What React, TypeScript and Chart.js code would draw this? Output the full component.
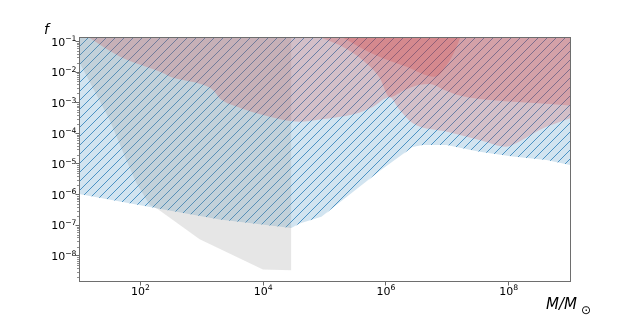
import React, { useEffect, useRef } from 'react';
import { Chart, registerables } from 'chart.js';

Chart.register(...registerables);

// Axis limits (log10 space: M 1..9, f -8.85..-0.86)
const M_MIN = 10;
const M_MAX = 1e9;
const F_MIN = 1.41e-9;
const F_MAX = 0.1393;

// Tick exponents
const xTickExponents = [2, 4, 6, 8];
const yTickExponents = [-8, -7, -6, -5, -4, -3, -2, -1];

// Blue hatched constraint (lower edge, excluded above)
const massBlue = [10, 194, 1960, 2.88e4, 3.93e4, 8.9e4, 7.9e5, 2.72e6, 3.96e6, 9.75e6, 3.36e7, 1.16e8, 4.14e8, 1e9];
const fBlue = [1.05e-6, 3.5e-7, 1.55e-7, 8.2e-8, 1.15e-7, 1.9e-7, 5.9e-6, 3.6e-5, 4.2e-5, 4.2e-5, 2.5e-5, 1.74e-5, 1.35e-5, 9.3e-6];

// Grey constraint
const massGrey = [10, 31.6, 59, 86, 142, 191, 925, 9930, 2.88e4, 2.88e4];
const fGrey = [2.2e-2, 2.75e-4, 1.35e-5, 2.4e-6, 4.6e-7, 3.4e-7, 3.5e-8, 3.6e-9, 3.4e-9, F_MAX];

// Red constraints
const massRed1 = [14, 46, 233, 300, 1050, 1520, 1960, 3660, 1.28e4, 3.93e4, 8.3e4, 3.1e5, 6.07e5, 1.15e6, 1.67e6, 2.75e6, 9.6e6, 3.36e7, 9.1e7, 1.5e8, 3.18e8, 1e9];
const fRed1 = [F_MAX, 3.24e-2, 9.3e-3, 7.2e-3, 3.84e-3, 2.6e-3, 1.41e-3, 7.5e-4, 3.5e-4, 2.4e-4, 2.85e-4, 4.3e-4, 7.3e-4, 1.52e-3, 5.9e-4, 2.14e-4, 1.14e-4, 6.1e-5, 3.67e-5, 5.4e-5, 1.29e-4, 3.1e-4];

const massRed2 = [8.3e4, 2.12e5, 4.5e5, 7.9e5, 1.15e6, 2.02e6, 3.54e6, 5.15e6, 9.0e6, 1.58e7, 6.3e7, 2.19e8, 1e9];
const fRed2 = [F_MAX, 6.2e-2, 2.17e-2, 6.5e-3, 1.52e-3, 2.6e-3, 3.84e-3, 4.1e-3, 2.6e-3, 1.71e-3, 1.17e-3, 9.9e-4, 8.05e-4];

const massRed3 = [1.9e5, 6.07e5, 2.17e6, 6.2e6, 1.09e7, 1.47e7, 1.64e7];
const fRed3 = [F_MAX, 3.96e-2, 1.49e-2, 7.0e-3, 2.34e-2, 7.8e-2, F_MAX];

const pts = (xs: number[], ys: number[]) => xs.map((x, i) => ({ x, y: ys[i] }));
const expOf = (v: number) => String(Math.round(Math.log10(v))).replace('-', '\u2212');

function makeHatch(): CanvasPattern | string {
  const s = 9;
  const c = document.createElement('canvas');
  c.width = s;
  c.height = s;
  const g = c.getContext('2d');
  if (!g) return 'rgba(31,119,180,0.2)';
  g.fillStyle = 'rgba(31,119,180,0.2)';
  g.fillRect(0, 0, s, s);
  g.strokeStyle = 'rgba(31,119,180,0.75)';
  g.lineWidth = 1;
  g.beginPath();
  g.moveTo(0, s);
  g.lineTo(s, 0);
  g.moveTo(-2, 2);
  g.lineTo(2, -2);
  g.moveTo(s - 2, s + 2);
  g.lineTo(s + 2, s - 2);
  g.stroke();
  const p = g.createPattern(c, 'repeat');
  return p || 'rgba(31,119,180,0.2)';
}

const BASE_FONT = '11px "DejaVu Sans"';
const EXP_FONT = '7.7px "DejaVu Sans"';

const decor = {
  id: 'decor',
  afterDraw(chart: any) {
    const { ctx, chartArea: a, scales } = chart;
    ctx.save();
    const ys = scales.y;
    const xs = scales.x;
    // minor y ticks
    ctx.strokeStyle = 'rgba(0,0,0,0.55)';
    ctx.lineWidth = 0.8;
    for (let e = -9; e <= -1; e++) {
      for (let m = 2; m <= 9; m++) {
        const v = m * Math.pow(10, e);
        if (v < F_MIN || v > F_MAX) continue;
        const p = Math.round(ys.getPixelForValue(v)) + 0.5;
        ctx.beginPath();
        ctx.moveTo(a.left, p);
        ctx.lineTo(a.left - 2, p);
        ctx.stroke();
      }
    }
    // frame
    ctx.strokeStyle = '#6e6e6e';
    ctx.lineWidth = 1;
    ctx.strokeRect(a.left + 0.5, a.top + 0.5, a.right - a.left, a.bottom - a.top - 1);

    // tick labels (10 with superscript exponent)
    ctx.fillStyle = '#000';
    ctx.textBaseline = 'alphabetic';
    ctx.textAlign = 'left';
    ys.ticks.forEach((t: any) => {
      const py = ys.getPixelForValue(t.value);
      const ex = expOf(t.value);
      ctx.font = EXP_FONT;
      const we = ctx.measureText(ex).width;
      ctx.font = BASE_FONT;
      const wb = ctx.measureText('10').width;
      const right = a.left - 2.5;
      const baseY = py + 4.2;
      ctx.fillText('10', right - we - wb, baseY);
      ctx.font = EXP_FONT;
      ctx.fillText(ex, right - we, baseY - 4.4);
    });
    xs.ticks.forEach((t: any) => {
      const px = xs.getPixelForValue(t.value);
      const ex = expOf(t.value);
      ctx.font = EXP_FONT;
      const we = ctx.measureText(ex).width;
      ctx.font = BASE_FONT;
      const wb = ctx.measureText('10').width;
      const left = px - (wb + we) / 2;
      const baseY = a.bottom + 12.5;
      ctx.fillText('10', left, baseY);
      ctx.font = EXP_FONT;
      ctx.fillText(ex, left + wb, baseY - 4.4);
    });

    // axis titles
    ctx.font = 'italic 14px "DejaVu Sans"';
    ctx.fillText('f', 44, 34);
    ctx.font = 'italic 15px "DejaVu Sans"';
    ctx.fillText('M/M', 546, 309);
    ctx.font = '12px "DejaVu Sans"';
    ctx.fillText('\u2299', 581, 313.5);
    ctx.restore();
  },
};

export default function App() {
  const ref = useRef<HTMLCanvasElement | null>(null);
  useEffect(() => {
    if (!ref.current) return;
    const hatch = makeHatch();
    const base = {
      type: 'line' as const,
      pointRadius: 0,
      borderWidth: 0,
      borderColor: 'transparent',
      fill: 'end',
    };
    const chart = new Chart(ref.current, {
      type: 'line',
      data: {
        datasets: [
          { ...base, label: 'blue', data: pts(massBlue, fBlue), backgroundColor: hatch as any, tension: 0, order: 5 },
          { ...base, label: 'grey', data: pts(massGrey, fGrey), backgroundColor: 'rgba(128,128,128,0.2)', tension: 0, order: 4 },
          { ...base, label: 'red1', data: pts(massRed1, fRed1), backgroundColor: 'rgba(214,39,40,0.2)', cubicInterpolationMode: 'monotone', order: 3 },
          { ...base, label: 'red2', data: pts(massRed2, fRed2), backgroundColor: 'rgba(214,39,40,0.2)', cubicInterpolationMode: 'monotone', order: 2 },
          { ...base, label: 'red3', data: pts(massRed3, fRed3), backgroundColor: 'rgba(214,39,40,0.2)', cubicInterpolationMode: 'monotone', order: 1 },
        ] as any,
      },
      options: {
        responsive: false,
        animation: false,
        layout: { padding: { left: 0, top: 37, right: 64, bottom: 0 } },
        plugins: { legend: { display: false }, tooltip: { enabled: false } },
        scales: {
          x: {
            type: 'logarithmic',
            min: M_MIN,
            max: M_MAX,
            afterBuildTicks: (s: any) => {
              s.ticks = xTickExponents.map((e) => ({ value: Math.pow(10, e) }));
            },
            afterFit: (s: any) => {
              s.height = 35;
            },
            grid: { drawOnChartArea: false, drawTicks: true, tickLength: 3.5, tickColor: '#444', tickWidth: 0.8 },
            border: { display: false },
            ticks: { display: false, autoSkip: false },
          },
          y: {
            type: 'logarithmic',
            min: F_MIN,
            max: F_MAX,
            afterBuildTicks: (s: any) => {
              s.ticks = yTickExponents.map((e) => ({ value: Math.pow(10, e) }));
            },
            afterFit: (s: any) => {
              s.width = 79;
            },
            grid: { drawOnChartArea: false, drawTicks: true, tickLength: 3.5, tickColor: '#444', tickWidth: 0.8 },
            border: { display: false },
            ticks: { display: false, autoSkip: false },
          },
        },
      } as any,
      plugins: [decor],
    });
    return () => chart.destroy();
  }, []);
  return (
    <div style={{ position: 'absolute', left: 0, top: 0, width: 634, height: 317, background: '#fff' }}>
      <canvas ref={ref} width={634} height={317} style={{ display: 'block', width: 634, height: 317 }} />
    </div>
  );
}
